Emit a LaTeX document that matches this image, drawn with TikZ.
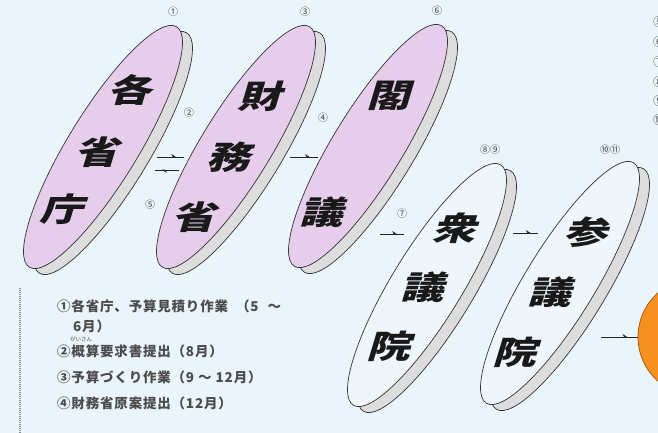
\documentclass[tikz,border=0pt]{standalone}
\usepackage{fontspec}
\usetikzlibrary{arrows.meta,calc,shapes.geometric}
\newfontfamily\jp{Noto Sans CJK JP}
\newfontfamily\jpl{Noto Sans CJK JP}[LetterSpace=6]
\definecolor{bg}{HTML}{EAF5FB}
\definecolor{lav}{HTML}{E6CDEC}
\definecolor{rim}{HTML}{DEDDDD}
\definecolor{facew}{HTML}{EEF6FB}
\definecolor{org}{HTML}{F7901E}
\definecolor{orgd}{HTML}{A65A14}
\tikzset{
  disc/.style={ellipse, draw=black!80, line width=0.7pt, minimum width=282pt,
    minimum height=70pt, inner sep=0pt, rotate=58.5},
  discback/.style={disc, fill=rim},
  discpink/.style={disc, fill=lav},
  discwhite/.style={disc, fill=facew},
  bigk/.style={font=\jp\bfseries\fontsize{38}{38}\selectfont, text=black!90,
    inner sep=0pt, xslant=0.3, yscale=0.85, xscale=1.15},
  lab/.style={font=\jp\fontsize{10}{10}\selectfont, text=black!75, inner sep=0pt},
  listtxt/.style={font=\jpl\bfseries\fontsize{13.5}{13.5}\selectfont, text=black!70,
    inner sep=0pt, anchor=west},
  edgetxt/.style={font=\jp\fontsize{12}{12}\selectfont, text=black!70,
    inner sep=0pt, anchor=west},
  conn/.style={draw=black!85, line width=0.8pt},
  tip/.style={draw=black!85, line width=0.8pt,
    -{Stealth[harpoon,length=4.5pt,width=6pt]}},
}
\begin{document}
\begin{tikzpicture}[x=1pt,y=-1pt]
\useasboundingbox (0,0) rectangle (658,433);
\fill[bg] (0,0) rectangle (658,433);
\clip (0,0) rectangle (658,433);

% discs: back rim then front face
\node[discback] (b1) at (113,153) {};
\node[discpink] (d1) at (103,147) {};
\node[discback] (b2) at (246,153) {};
\node[discpink] (d2) at (236,147) {};
\node[discback] (b3) at (378,152) {};
\node[discpink] (d3) at (368,146) {};
\node[discback] (b4) at (437,291) {};
\node[discwhite] (d4) at (427,285) {};
\node[discback] (b5) at (570,289) {};
\node[discwhite] (d5) at (560,283) {};

% orange goal
\node[circle, fill=org, draw=orgd, line width=0.8pt, minimum size=118pt, inner sep=0pt] (goal) at (697,337) {};

% big kanji
\node[bigk] (t1a) at (133,90) {各};
\node[bigk] (t1b) at (100,152) {省};
\node[bigk] (t1c) at (65,209) {庁};
\node[bigk] (t2a) at (263,96) {財};
\node[bigk] (t2b) at (232,157) {務};
\node[bigk] (t2c) at (197,217) {省};
\node[bigk] (t3a) at (392,96) {閣};
\node[bigk] (t3b) at (325,212) {議};
\node[bigk] (t4a) at (458,228) {衆};
\node[bigk] (t4b) at (426,287) {議};
\node[bigk] (t4c) at (392,346) {院};
\node[bigk] (t5a) at (589,232) {参};
\node[bigk] (t5b) at (553,292) {議};
\node[bigk] (t5c) at (518,352) {院};

% step labels
\node[lab] (l1) at (173,12) {①};
\node[lab] (l3) at (305,12) {③};
\node[lab] (l6) at (437,11) {⑥};
\node[lab] (l2) at (189,113) {②};
\node[lab] (l5) at (150,205) {⑤};
\node[lab] (l4) at (323,118) {④};
\node[lab] (l7) at (402,214) {⑦};
\node[lab] (l89) at (490,150) {⑧⑨};
\node[lab] (l1011) at (610,150) {⑩⑪};

% arrow end points
\coordinate (a2s) at (157,157); \coordinate (a2e) at (184,157);
\coordinate (a5s) at (179,170); \coordinate (a5e) at (155,170);
\coordinate (a4s) at (290,157); \coordinate (a4e) at (318,157);
\coordinate (a7s) at (380,234); \coordinate (a7e) at (404,234);
\coordinate (a8s) at (513,233); \coordinate (a8e) at (538,233);
\coordinate (a9s) at (601,337); \coordinate (a9e) at (638,337);
\foreach \s/\e in {a2s/a2e,a5s/a5e,a4s/a4e,a7s/a7e,a8s/a8e,a9s/a9e}{
  \draw[conn] (\s) -- (\e);
  \draw[tip] (\s) -- ($(\s)!0.72!(\e)$);
}

% partial list at right edge (cut by the picture's edge)
\foreach \n/\yy in {⑤/22,⑥/42,⑦/62,⑧/82,⑨/101,⑩/120}{
  \node[edgetxt] at (653,\yy) {\n};
}

% bottom-left list
\draw[black!45, line width=1.2pt, dash pattern=on 1pt off 1pt] (20,288) -- (20,433);
\node[listtxt] (s1) at (57,306) {①各省庁、予算見積り作業\hspace{8pt}（5\hspace{9pt}～};
\node[listtxt] (s1b) at (73,326) {6月）};
\node[listtxt, font=\jp\fontsize{5.5}{5.5}\selectfont] (ruby) at (70,339) {がいさん};
\node[listtxt] (s2) at (57,351) {②概算要求書提出（8月）};
\node[listtxt] (s3) at (57,377) {③予算づくり作業（9\hspace{4pt}～\hspace{4pt}12月）};
\node[listtxt] (s4) at (57,403) {④財務省原案提出（12月）};
\end{tikzpicture}
\end{document}
